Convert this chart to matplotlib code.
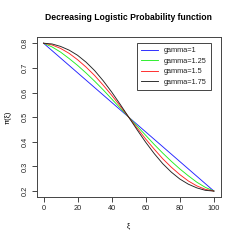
import matplotlib
matplotlib.use("Agg")
import matplotlib.pyplot as plt

xi = [0, 5, 10, 15, 20, 25, 30, 35, 40, 45, 50, 55, 60, 65, 70, 75, 80, 85, 90, 95, 100]
pi_g100 = [0.800, 0.770, 0.740, 0.710, 0.680, 0.650, 0.620, 0.590, 0.560, 0.530, 0.500,
           0.470, 0.440, 0.410, 0.380, 0.350, 0.320, 0.290, 0.260, 0.230, 0.200]
pi_g125 = [0.800, 0.785, 0.764, 0.738, 0.710, 0.679, 0.646, 0.611, 0.574, 0.537, 0.500,
           0.463, 0.426, 0.389, 0.354, 0.321, 0.290, 0.262, 0.236, 0.215, 0.200]
pi_g150 = [0.800, 0.793, 0.779, 0.759, 0.733, 0.703, 0.669, 0.630, 0.589, 0.545, 0.500,
           0.455, 0.411, 0.370, 0.331, 0.297, 0.267, 0.241, 0.221, 0.207, 0.200]
pi_g175 = [0.800, 0.797, 0.787, 0.772, 0.751, 0.723, 0.689, 0.648, 0.602, 0.552, 0.500,
           0.448, 0.398, 0.352, 0.311, 0.277, 0.249, 0.228, 0.213, 0.203, 0.200]
series = [pi_g100, pi_g125, pi_g150, pi_g175]
labels = ["gamma=1", "gamma=1.25", "gamma=1.5", "gamma=1.75"]
colors = ["#2222FF", "#22EE22", "#FF2222", "#222222"]
x_ticks = [0, 20, 40, 60, 80, 100]
y_ticks = [0.2, 0.3, 0.4, 0.5, 0.6, 0.7, 0.8]

plt.rcParams['font.family'] = ['Liberation Sans', 'DejaVu Sans']

W = 240.0
fig = plt.figure(figsize=(2.4, 2.4), dpi=100)
ax = fig.add_axes([36.7 / W, 1 - 197 / W, (220.7 - 36.7) / W, (197 - 37.3) / W])

for ys, lab, c in zip(series, labels, colors):
    ax.plot(xi, ys, color=c, lw=0.65, label=lab)

ax.set_xlim(-4, 104)
ax.set_ylim(0.176, 0.824)
ax.set_xticks(x_ticks)
ax.set_xticklabels([str(t) for t in x_ticks])
ax.set_yticks(y_ticks)
ax.set_yticklabels([f"{t:.1f}" for t in y_ticks], rotation=90, va='center')
ax.tick_params(direction='out', length=3.5, width=0.7, labelsize=5.3, pad=2.2,
               color='#444444', labelcolor='#222222')
for s in ax.spines.values():
    s.set_linewidth(0.7)
    s.set_color('#444444')

fig.text(128.7 / W, 1 - 18 / W, "Decreasing Logistic Probability function",
         ha='center', va='center', fontsize=6.2, fontweight='bold')
fig.text(128.7 / W, 1 - 226 / W, "ξ", ha='center', va='center', fontsize=5.3)
fig.text(8 / W, 1 - 117 / W, "π(ξ)", ha='center', va='center', fontsize=5.3, rotation=90)

leg = ax.legend(loc='upper right', bbox_to_anchor=(211 / W, 1 - 42.7 / W),
                bbox_transform=fig.transFigure, fontsize=5.3, frameon=True,
                fancybox=False, framealpha=1, edgecolor='#444444',
                handlelength=2.3, handletextpad=0.8, labelspacing=0.45,
                borderpad=0.6, borderaxespad=0)
leg.get_frame().set_linewidth(0.7)
for t in leg.get_texts():
    t.set_color('#222222')

fig.savefig("out.png", dpi=100)
